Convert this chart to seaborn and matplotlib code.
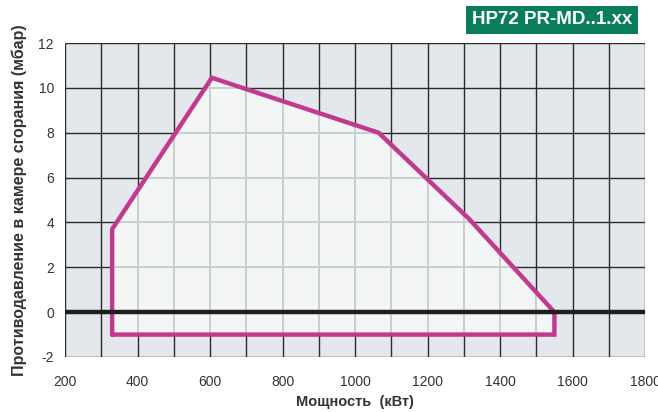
import matplotlib
matplotlib.use('Agg')
import matplotlib.pyplot as plt
import numpy as np
import pandas as pd
import seaborn as sns
from matplotlib.patches import Polygon

# working field of the burner (kW vs mbar)
power_kw = [330, 330, 605, 1065, 1315, 1550, 1550, 330]
pressure_mbar = [-1.0, 3.7, 10.45, 8.0, 4.15, 0.0, -1.0, -1.0]

x_ticks = [200, 400, 600, 800, 1000, 1200, 1400, 1600, 1800]
y_ticks = [-2, 0, 2, 4, 6, 8, 10, 12]
x_grid = list(range(200, 1801, 100))
y_grid = [-2, 0, 2, 4, 6, 8, 10, 12]

title = "HP72 PR-MD..1.xx"
x_label = "Мощность  (кВт)"
y_label = "Противодавление в камере сгорания (мбар)"

sns.set_style("white")
plt.rcParams['font.family'] = ['Liberation Sans', 'DejaVu Sans']
plt.rcParams['axes.unicode_minus'] = False

fig = plt.figure(figsize=(6.58, 4.12), dpi=100)
ax = fig.add_axes([0.0988, 0.1335, 0.8815, 0.7621])
ax.set_facecolor('#e4e8ec')

# dark grid over the whole plot
ax.vlines(x_grid, -2, 12, colors='#2b2b2b', linewidth=1.0, zorder=1)
ax.hlines(y_grid, 200, 1800, colors='#2b2b2b', linewidth=1.0, zorder=1)

# light area inside the working field
pts = np.column_stack([power_kw, pressure_mbar])
field = Polygon(pts, closed=True, facecolor='#f4f6f6', edgecolor='none', zorder=2)
ax.add_patch(field)

# light grid inside the field
vl = ax.vlines(x_grid, -2, 12, colors='#c7cfd4', linewidth=1.4, zorder=3)
hl = ax.hlines(y_grid, 200, 1800, colors='#c7cfd4', linewidth=1.4, zorder=3)
vl.set_clip_path(field)
hl.set_clip_path(field)

df = pd.DataFrame({'power': power_kw, 'pressure': pressure_mbar})
sns.lineplot(data=df, x='power', y='pressure', sort=False, estimator=None,
             color='#c23a8e', linewidth=3.2, ax=ax, zorder=4)
for line in ax.lines:
    line.set_solid_joinstyle('miter')

# zero line
ax.axhline(0, color='#1e1e1e', linewidth=3.2, zorder=5)

ax.set_xlim(200, 1800)
ax.set_ylim(-2, 12)
ax.set_xticks(x_ticks)
ax.set_yticks(y_ticks)
ax.tick_params(axis='both', length=0, labelsize=10, labelcolor='#333333')
ax.tick_params(axis='x', pad=13)
ax.tick_params(axis='y', pad=8)
for s in ax.spines.values():
    s.set_visible(False)

ax.set_xlabel(x_label, fontsize=10.5, fontweight='bold', color='#333333', labelpad=4)
ax.set_ylabel(y_label, fontsize=11.5, fontweight='bold', color='#333333', labelpad=8)

fig.text(0.839, 0.9515, title, ha='center', va='center', color='white',
         fontsize=13.5, fontweight='bold',
         bbox=dict(boxstyle='square,pad=0.3', facecolor='#0a7e5c', edgecolor='none'))

fig.savefig('out.png', dpi=100)
